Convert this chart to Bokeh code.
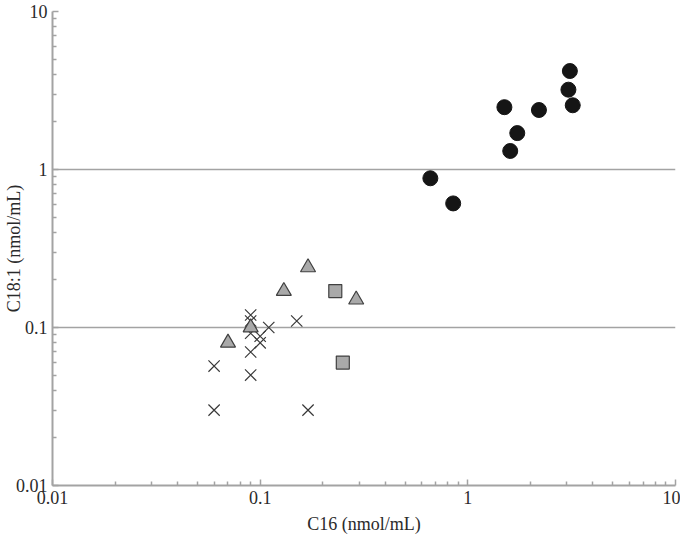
from bokeh.plotting import figure
from bokeh.models import FixedTicker, CustomJSTickFormatter
from bokeh.embed import file_html
from bokeh.resources import INLINE

# ---- data ----
circle_x = [3.1, 3.05, 3.2, 1.5, 2.2, 1.73, 1.6, 0.66, 0.85]
circle_y = [4.2, 3.2, 2.55, 2.48, 2.38, 1.7, 1.31, 0.88, 0.61]

triangle_x = [0.17, 0.13, 0.29, 0.09, 0.07]
triangle_y = [0.24, 0.17, 0.15, 0.10, 0.08]

square_x = [0.23, 0.25]
square_y = [0.17, 0.06]

cross_x = [0.09, 0.09, 0.09, 0.10, 0.10, 0.11, 0.15, 0.09, 0.06, 0.09, 0.06, 0.17]
cross_y = [0.12, 0.11, 0.092, 0.088, 0.08, 0.10, 0.11, 0.07, 0.057, 0.05, 0.03, 0.03]

major_ticks = [0.01, 0.1, 1, 10]
minor_ticks = [m * d for d in [0.01, 0.1, 1] for m in range(2, 10)]

x_label = "C16 (nmol/mL)"
y_label = "C18:1 (nmol/mL)"

FONT = "Liberation Serif"
AXIS_GRAY = "#a3a3a3"
TEXT = "#2a2a2a"

p = figure(width=680, height=536, x_axis_type="log", y_axis_type="log",
           x_range=(0.01, 10), y_range=(0.01, 10),
           output_backend="svg", toolbar_location=None,
           min_border_left=52, min_border_right=5, min_border_top=11, min_border_bottom=10)
p.outline_line_color = None
p.background_fill_color = "white"
p.border_fill_color = "white"

ticker = FixedTicker(ticks=major_ticks, minor_ticks=minor_ticks)
fmt = CustomJSTickFormatter(code="return String(tick)")
for ax in (p.xaxis[0], p.yaxis[0]):
    ax.ticker = ticker
    ax.formatter = fmt
    ax.axis_line_color = AXIS_GRAY
    ax.axis_line_width = 2
    ax.major_tick_line_color = AXIS_GRAY
    ax.minor_tick_line_color = AXIS_GRAY
    ax.major_tick_line_width = 1.5
    ax.minor_tick_line_width = 1.5
    ax.major_tick_in = 6
    ax.major_tick_out = 0
    ax.minor_tick_in = 4
    ax.minor_tick_out = 0
    ax.major_label_text_font = FONT
    ax.major_label_text_font_size = "18px"
    ax.major_label_text_color = TEXT
    ax.major_label_standoff = 5
    ax.axis_label_text_font = FONT
    ax.axis_label_text_font_size = "18px"
    ax.axis_label_text_font_style = "normal"
    ax.axis_label_text_color = TEXT

p.xaxis[0].axis_label = x_label
p.xaxis[0].axis_label_standoff = 7
p.yaxis[0].axis_label = y_label
p.yaxis[0].axis_label_standoff = -11

p.xgrid.visible = False
p.ygrid[0].ticker = ticker
p.ygrid[0].grid_line_color = AXIS_GRAY
p.ygrid[0].grid_line_width = 1.5

p.scatter(cross_x, cross_y, marker="x", size=16, line_color="#3a3a3a", line_width=1.2)
p.scatter(triangle_x, triangle_y, marker="triangle", size=15,
          fill_color="#a9a9a9", line_color="#404040", line_width=1.2)
p.scatter(square_x, square_y, marker="square", size=13,
          fill_color="#a9a9a9", line_color="#404040", line_width=1.2)
p.scatter(circle_x, circle_y, marker="circle", size=15,
          fill_color="#151515", line_color="#151515")

open("out.html", "w").write(file_html(p, INLINE))
